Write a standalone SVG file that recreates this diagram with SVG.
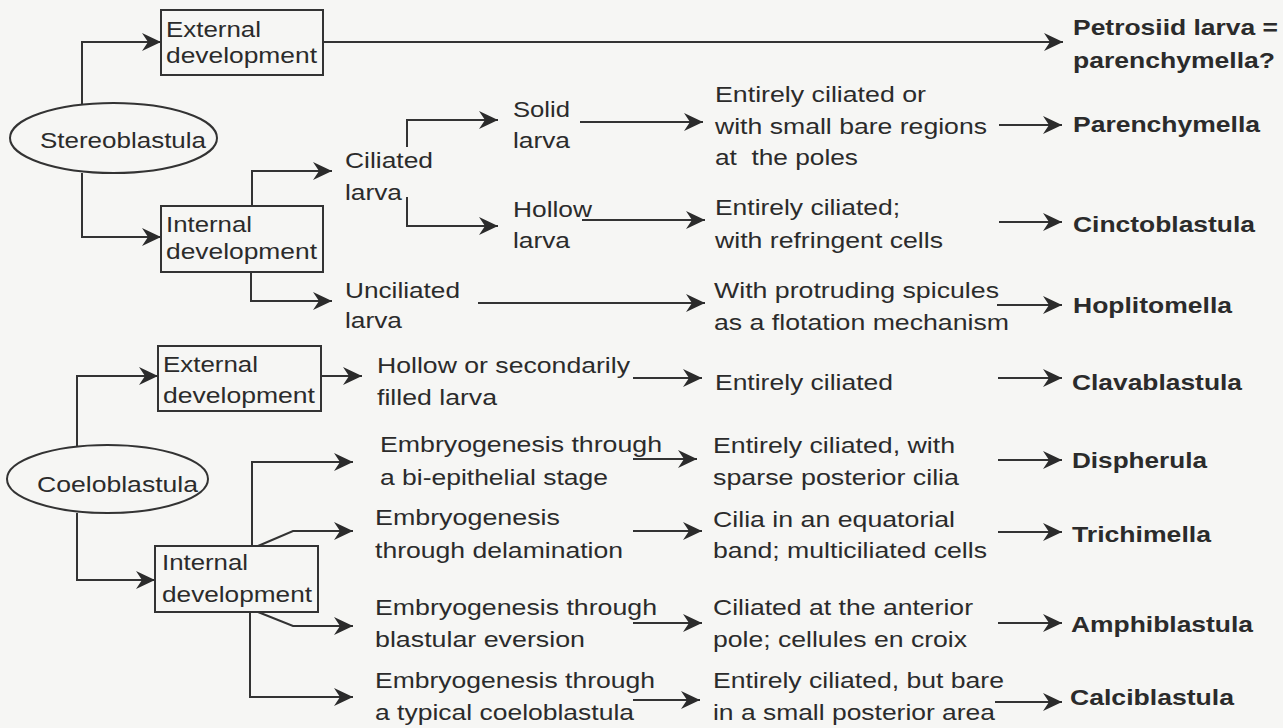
<svg xmlns="http://www.w3.org/2000/svg" width="1283" height="728" viewBox="0 0 1283 728">
<style>
text{font-family:"Liberation Sans",Arial,sans-serif;font-size:22px;fill:#2b2b2b}
.b{font-weight:bold}
.box{fill:none;stroke:#333;stroke-width:2}
.ell{fill:none;stroke:#333;stroke-width:2}
#connectors path{fill:none;stroke:#333;stroke-width:2;marker-end:url(#ah)}
</style>
<defs>
<marker id="ah" markerUnits="userSpaceOnUse" markerWidth="22" markerHeight="20" refX="19" refY="9" orient="auto">
<path d="M0,0 L19,9 L0,18 L6,9 Z" fill="#2b2b2b"/>
</marker>
</defs>
<rect width="1283" height="728" fill="#f6f6f4"/>
<g id="connectors">
<path d="M82,105 V42 H161"/>
<path d="M323,42 H1063"/>
<path d="M82,173 V237 H161"/>
<path d="M252,206 V171 H332"/>
<path d="M407,147 V120 H498"/>
<path d="M407,197 V226 H498"/>
<path d="M580,122 H703"/>
<path d="M582,220 H705"/>
<path d="M999,125 H1062"/>
<path d="M999,222 H1062"/>
<path d="M251,272 V301 H332"/>
<path d="M478,303 H705"/>
<path d="M997,305 H1062"/>
<path d="M77,446 V376 H158"/>
<path d="M321,376 H362"/>
<path d="M633,378 H702"/>
<path d="M998,378 H1062"/>
<path d="M77,513 V580 H155"/>
<path d="M252,546 V462 H353"/>
<path d="M258,546 L293,531 H353"/>
<path d="M258,612 L293,626 H353"/>
<path d="M250,612 V697 H353"/>
<path d="M633,459 H697"/>
<path d="M633,531 H702"/>
<path d="M633,623 H702"/>
<path d="M633,700 H700"/>
<path d="M998,460 H1062"/>
<path d="M998,532 H1062"/>
<path d="M998,623 H1062"/>
<path d="M995,702 H1062"/>
</g>
<g id="stereoblastula"><ellipse class="ell" cx="113.5" cy="138" rx="103.5" ry="35"/><text x="40" y="148" textLength="166" lengthAdjust="spacingAndGlyphs">Stereoblastula</text></g>
<g id="s-external"><rect class="box" x="161" y="10" width="162" height="65"/><text x="166" y="37" textLength="95" lengthAdjust="spacingAndGlyphs">External</text><text x="166" y="63" textLength="151" lengthAdjust="spacingAndGlyphs">development</text></g>
<g id="s-internal"><rect class="box" x="161" y="206" width="162" height="66"/><text x="166" y="232" textLength="86" lengthAdjust="spacingAndGlyphs">Internal</text><text x="166" y="259" textLength="151" lengthAdjust="spacingAndGlyphs">development</text></g>
<g id="ciliated"><text x="345" y="168" textLength="88" lengthAdjust="spacingAndGlyphs">Ciliated</text><text x="345" y="200" textLength="57" lengthAdjust="spacingAndGlyphs">larva</text></g>
<g id="solid"><text x="513" y="117" textLength="57" lengthAdjust="spacingAndGlyphs">Solid</text><text x="513" y="148" textLength="57" lengthAdjust="spacingAndGlyphs">larva</text></g>
<g id="hollow"><text x="513" y="217" textLength="79" lengthAdjust="spacingAndGlyphs">Hollow</text><text x="513" y="248" textLength="57" lengthAdjust="spacingAndGlyphs">larva</text></g>
<g id="unciliated"><text x="345" y="298" textLength="115" lengthAdjust="spacingAndGlyphs">Unciliated</text><text x="345" y="328" textLength="57" lengthAdjust="spacingAndGlyphs">larva</text></g>
<g id="d-solid"><text x="715" y="102" textLength="211" lengthAdjust="spacingAndGlyphs">Entirely ciliated or</text><text x="715" y="134" textLength="272" lengthAdjust="spacingAndGlyphs">with small bare regions</text><text x="715" y="165" textLength="143" lengthAdjust="spacingAndGlyphs" xml:space="preserve">at  the poles</text></g>
<g id="d-hollow"><text x="715" y="215" textLength="185" lengthAdjust="spacingAndGlyphs">Entirely ciliated;</text><text x="715" y="248" textLength="228" lengthAdjust="spacingAndGlyphs">with refringent cells</text></g>
<g id="d-unciliated"><text x="714" y="298" textLength="285" lengthAdjust="spacingAndGlyphs">With protruding spicules</text><text x="714" y="330" textLength="295" lengthAdjust="spacingAndGlyphs">as a flotation mechanism</text></g>
<g id="petrosiid"><text class="b" x="1073" y="35" textLength="205" lengthAdjust="spacingAndGlyphs">Petrosiid larva =</text><text class="b" x="1073" y="68" textLength="202" lengthAdjust="spacingAndGlyphs">parenchymella?</text></g>
<g id="parenchymella"><text class="b" x="1073" y="132" textLength="187" lengthAdjust="spacingAndGlyphs">Parenchymella</text></g>
<g id="cinctoblastula"><text class="b" x="1073" y="232" textLength="182" lengthAdjust="spacingAndGlyphs">Cinctoblastula</text></g>
<g id="hoplitomella"><text class="b" x="1073" y="313" textLength="159" lengthAdjust="spacingAndGlyphs">Hoplitomella</text></g>
<g id="coeloblastula"><ellipse class="ell" cx="107.5" cy="479" rx="100.5" ry="34"/><text x="37" y="492" textLength="161" lengthAdjust="spacingAndGlyphs">Coeloblastula</text></g>
<g id="c-external"><rect class="box" x="158" y="346" width="163" height="65"/><text x="163" y="372" textLength="95" lengthAdjust="spacingAndGlyphs">External</text><text x="163" y="403" textLength="152" lengthAdjust="spacingAndGlyphs">development</text></g>
<g id="c-internal"><rect class="box" x="155" y="546" width="163" height="66"/><text x="162" y="570" textLength="86" lengthAdjust="spacingAndGlyphs">Internal</text><text x="162" y="602" textLength="150" lengthAdjust="spacingAndGlyphs">development</text></g>
<g id="hollow-filled"><text x="377" y="373" textLength="253" lengthAdjust="spacingAndGlyphs">Hollow or secondarily</text><text x="377" y="405" textLength="120" lengthAdjust="spacingAndGlyphs">filled larva</text></g>
<g id="d-clava"><text x="715" y="390" textLength="178" lengthAdjust="spacingAndGlyphs">Entirely ciliated</text></g>
<g id="clavablastula"><text class="b" x="1072" y="390" textLength="170" lengthAdjust="spacingAndGlyphs">Clavablastula</text></g>
<g id="e-biepithelial"><text x="380" y="452" textLength="282" lengthAdjust="spacingAndGlyphs">Embryogenesis through</text><text x="380" y="485" textLength="228" lengthAdjust="spacingAndGlyphs">a bi-epithelial stage</text></g>
<g id="d-dispherula"><text x="713" y="453" textLength="242" lengthAdjust="spacingAndGlyphs">Entirely ciliated, with</text><text x="713" y="485" textLength="246" lengthAdjust="spacingAndGlyphs">sparse posterior cilia</text></g>
<g id="dispherula"><text class="b" x="1072" y="468" textLength="135" lengthAdjust="spacingAndGlyphs">Dispherula</text></g>
<g id="e-delamination"><text x="375" y="525" textLength="185" lengthAdjust="spacingAndGlyphs">Embryogenesis</text><text x="375" y="558" textLength="248" lengthAdjust="spacingAndGlyphs">through delamination</text></g>
<g id="d-trichimella"><text x="713" y="527" textLength="242" lengthAdjust="spacingAndGlyphs">Cilia in an equatorial</text><text x="713" y="558" textLength="274" lengthAdjust="spacingAndGlyphs">band; multiciliated cells</text></g>
<g id="trichimella"><text class="b" x="1072" y="542" textLength="139" lengthAdjust="spacingAndGlyphs">Trichimella</text></g>
<g id="e-eversion"><text x="375" y="615" textLength="282" lengthAdjust="spacingAndGlyphs">Embryogenesis through</text><text x="375" y="647" textLength="210" lengthAdjust="spacingAndGlyphs">blastular eversion</text></g>
<g id="d-amphi"><text x="713" y="615" textLength="260" lengthAdjust="spacingAndGlyphs">Ciliated at the anterior</text><text x="713" y="647" textLength="254" lengthAdjust="spacingAndGlyphs">pole; cellules en croix</text></g>
<g id="amphiblastula"><text class="b" x="1071" y="632" textLength="182" lengthAdjust="spacingAndGlyphs">Amphiblastula</text></g>
<g id="e-typical"><text x="375" y="688" textLength="280" lengthAdjust="spacingAndGlyphs">Embryogenesis through</text><text x="375" y="720" textLength="259" lengthAdjust="spacingAndGlyphs">a typical coeloblastula</text></g>
<g id="d-calci"><text x="713" y="688" textLength="291" lengthAdjust="spacingAndGlyphs">Entirely ciliated, but bare</text><text x="713" y="720" textLength="282" lengthAdjust="spacingAndGlyphs">in a small posterior area</text></g>
<g id="calciblastula"><text class="b" x="1070" y="705" textLength="164" lengthAdjust="spacingAndGlyphs">Calciblastula</text></g>
</svg>
